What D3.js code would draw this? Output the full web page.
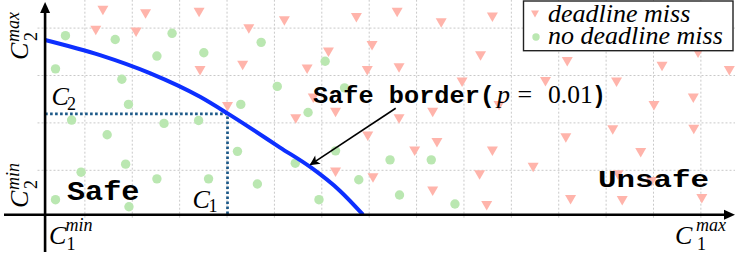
<!DOCTYPE html>
<html>
<head>
<meta charset="utf-8">
<script src="https://cdn.jsdelivr.net/npm/d3@7/dist/d3.min.js"></script>
<style>
  html, body { margin: 0; padding: 0; background: #fff; }
  svg { display: block; }
  .serif { font-family: "Liberation Serif", "Times New Roman", serif; }
  .mono { font-family: "Liberation Mono", "Courier New", monospace; font-weight: bold; }
</style>
</head>
<body>
<svg id="chart" width="735" height="258"></svg>
<script>
// ---------------- data (grid units) ----------------
const gridX = [1,2,3,4,5,6,7,8,9,10,11,12,13,14];
const gridY = [1,2,3,4];

// deadline miss (triangles)
const missX = [1.38,2.28,3.41,1.23,2.08,3.43,4.33,4.01,4.46,5.21,6.73,7.59,8.52,9.60,
  6.14,7.06,9.35,5.69,6.96,7.63,8.96,5.82,6.29,5.45,7.63,8.34,13.94,11.18,13.18,14.60,
  10.72,12.22,13.84,13.01,9.74,12.14,13.85,6.97,8.43,7.96,6.29,7.08,8.34,9.33,9.48,
  9.60,11.15,12.73,10.46,12.25,12.96,11.25,12.34,14.02];
const missY = [4.37,4.30,4.33,3.95,3.91,3.10,3.21,2.34,3.98,4.15,4.22,4.33,4.11,4.23,
  3.49,3.63,3.41,3.13,3.10,3.16,2.86,2.52,2.22,2.08,2.08,2.22,3.47,3.29,3.19,3.10,
  2.87,2.86,2.52,2.36,2.36,1.85,1.86,1.72,1.58,1.40,0.96,0.84,0.56,0.90,0.25,
  1.40,1.68,1.37,1.06,0.90,0.76,0.38,0.36,0.40];

// no deadline miss (circles)
const okX = [0.59,1.64,2.84,2.52,3.51,0.38,1.78,1.92,4.29,0.72,2.67,3.40,4.72,6.07,
  5.06,6.48,5.71,1.47,1.86,0.92,2.52,3.61,0.38,1.93,4.22,6.29,5.44,4.64,5.94,6.78,
  7.44,8.31,7.64,8.81];
const okY = [3.84,3.76,3.89,3.41,3.48,3.14,2.92,2.39,2.39,2.06,1.99,2.05,3.70,3.30,
  2.77,2.74,2.22,1.75,1.13,0.96,0.82,0.82,0.38,0.23,1.40,1.41,1.15,0.71,0.38,0.80,
  1.22,1.22,0.48,0.29];

// safe border (p = 0.01)
const borderX = [0.16,1.32,2.37,3.43,4.01,4.48,5.12,5.77,6.38,6.87];
const borderY = [3.75,3.43,3.05,2.55,2.20,1.90,1.48,1.06,0.57,0.063];

// chosen point (C1, C2)
const C1 = 4.01, C2 = 2.19;
// axis origin (C1min, C2min)
const origin = [0.16, 0.063];
// annotation arrow (from label to border)
const arrowFrom = [7.56, 2.31], arrowTo = [5.76, 1.12];

const legendLabels = ["deadline miss", "no deadline miss"];

// ---------------- drawing ----------------
const svg = d3.select("#chart");
const x = d3.scaleLinear().domain([0, 14.72]).range([37.5, 735]);
const y = d3.scaleLinear().domain([0, 4.593]).range([217.7, 0]);

const pink = "#ffb4ab", green = "#bae7b1";

const defs = svg.append("defs");
defs.append("marker").attr("id","ah").attr("viewBox","0 0 10 10")
  .attr("refX",9).attr("refY",5)
  .attr("markerUnits","userSpaceOnUse").attr("orient","auto")
  .attr("markerWidth",12).attr("markerHeight",10)
  .append("path").attr("d","M0,0 L10,5 L0,10 L2.5,5 Z").attr("fill","#000");

// grid
const grid = svg.append("g").attr("stroke","#c9c9c9").attr("stroke-width",1).attr("stroke-dasharray","2,2");
grid.selectAll("line.v").data(gridX).join("line").attr("class","v")
  .attr("x1", d => x(d)).attr("x2", d => x(d)).attr("y1", y(0)).attr("y2", 0);
grid.selectAll("line.h").data(gridY).join("line").attr("class","h")
  .attr("y1", d => y(d)).attr("y2", d => y(d)).attr("x1", x(0)).attr("x2", 735);

// markers
const tri = (cx, cy, w, h) => `M${cx - w/2},${cy - h/2} L${cx + w/2},${cy - h/2} L${cx},${cy + h/2} Z`;
svg.append("g").selectAll("path").data(missX.map((v,i)=>[v, missY[i]])).join("path")
  .attr("d", d => tri(x(d[0]), y(d[1]), 11, 9.5)).attr("fill", pink);
svg.append("g").selectAll("circle").data(okX.map((v,i)=>[v, okY[i]])).join("circle")
  .attr("cx", d => x(d[0])).attr("cy", d => y(d[1])).attr("r", 4.7).attr("fill", green);

// dotted C1/C2 lines
svg.append("path")
  .attr("d", `M${x(origin[0])},${y(C2)} L${x(C1)},${y(C2)} L${x(C1)},${y(origin[1])}`)
  .attr("fill","none").attr("stroke","#1b5888").attr("stroke-width",2.7).attr("stroke-dasharray","2.6,2.4");

// safe border curve
svg.append("path")
  .datum(borderX.map((v,i)=>[v, borderY[i]]))
  .attr("d", d3.line().x(d=>x(d[0])).y(d=>y(d[1])).curve(d3.curveMonotoneX))
  .attr("fill","none").attr("stroke","#0d2fff").attr("stroke-width",4);

// axes
const axes = svg.append("g");
const ax0 = y(origin[1]), ay0 = x(origin[0]);
axes.append("line").attr("x1", 4).attr("x2", 727).attr("y1", ax0).attr("y2", ax0)
  .attr("stroke","#000").attr("stroke-width",2.6);
axes.append("path").attr("d", `M735,${ax0} L724,${ax0 - 5} L724,${ax0 + 5} Z`).attr("fill","#000");
axes.append("line").attr("x1", ay0).attr("x2", ay0).attr("y1", 252).attr("y2", 10)
  .attr("stroke","#000").attr("stroke-width",2.6);
axes.append("path").attr("d", `M${ay0},2 L${ay0 - 5},13 L${ay0 + 5},13 Z`).attr("fill","#000");

// arrow annotation
svg.append("line")
  .attr("x1", x(arrowFrom[0])).attr("y1", y(arrowFrom[1]))
  .attr("x2", x(arrowTo[0])).attr("y2", y(arrowTo[1]))
  .attr("stroke","#000").attr("stroke-width",1.6).attr("marker-end","url(#ah)");

// math label helper: C with sup / sub in one text element
function mathC(g, sup, sub, opts) {
  const o = Object.assign({size: 26, ssize: 18, cw: 16, supDy: -12.5, subDy: 6}, opts || {});
  const t = g.append("text").attr("class","serif").attr("x",0).attr("y",0).attr("font-size",o.size);
  t.append("tspan").attr("font-style","italic").text("C");
  let cur = 0;
  if (sup) {
    t.append("tspan").attr("x",o.cw).attr("dy",o.supDy - cur).attr("font-style","italic")
      .attr("font-size",o.ssize).text(sup);
    cur = o.supDy;
  }
  if (sub) {
    t.append("tspan").attr("x",o.cw + 1).attr("dy",o.subDy - cur).attr("font-size",o.ssize).text(sub);
  }
}
mathC(svg.append("g").attr("transform","translate(675,243.5)"), "max", "1", {cw: 21});
mathC(svg.append("g").attr("transform","translate(49,243.5)"), "min", "1", {cw: 16.5});
mathC(svg.append("g").attr("transform","translate(27.5,60) rotate(-90)"), "max", "2", {cw: 18, supDy: -9, subDy: 9});
mathC(svg.append("g").attr("transform","translate(27.5,208) rotate(-90)"), "min", "2", {cw: 18, supDy: -9, subDy: 9});
mathC(svg.append("g").attr("transform",`translate(51.5,${y(C2) - 9})`), null, "2", {cw: 14.5, subDy: 5});
mathC(svg.append("g").attr("transform",`translate(192.5,208.3)`), null, "1", {cw: 15, subDy: 3.5});

// region labels
svg.append("text").attr("class","mono").attr("x",67).attr("y",200)
  .attr("font-size",28).attr("textLength",72.5).attr("lengthAdjust","spacingAndGlyphs").text("Safe");
svg.append("text").attr("class","mono").attr("x",598).attr("y",186.7)
  .attr("font-size",23).attr("textLength",111).attr("lengthAdjust","spacingAndGlyphs").text("Unsafe");

// safe border label: one text with tspans
const sb = svg.append("text").attr("y",103).attr("font-size",23);
sb.append("tspan").attr("class","mono").attr("x",313).attr("textLength",182)
  .attr("lengthAdjust","spacingAndGlyphs").text("Safe border(");
sb.append("tspan").attr("class","serif").attr("x",497).attr("font-size",26).attr("font-style","italic").text("p");
sb.append("tspan").attr("class","serif").attr("x",517.5).attr("font-size",26).text("=");
sb.append("tspan").attr("class","serif").attr("x",548).attr("font-size",25.5).text("0.01");
sb.append("tspan").attr("class","mono").attr("x",592).text(")");

// legend
const lg = svg.append("g");
lg.append("rect").attr("x",523.5).attr("y",1).attr("width",209.5).attr("height",49.7)
  .attr("fill","#fff").attr("stroke","#222").attr("stroke-width",1.4);
lg.append("path").attr("d", tri(535, 14, 8, 7)).attr("fill", pink);
lg.append("circle").attr("cx",536).attr("cy",37).attr("r",3.7).attr("fill", green);
const lt = lg.append("text").attr("class","serif").attr("font-style","italic").attr("font-size",26);
lt.selectAll("tspan").data(legendLabels).join("tspan")
  .attr("x",548).attr("y",(d,i)=>21.5 + i*22).text(d=>d);
</script>
</body>
</html>
